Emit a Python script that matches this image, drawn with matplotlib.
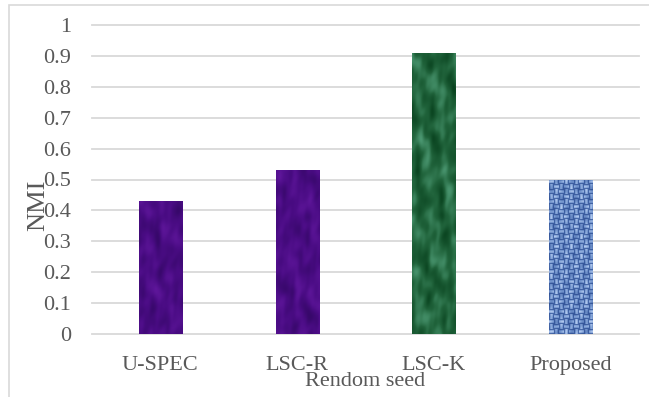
import numpy as np
import matplotlib.pyplot as plt
from matplotlib.colors import LinearSegmentedColormap
from matplotlib.patches import Rectangle

plt.rcParams['font.family'] = ['Liberation Serif', 'DejaVu Serif']

methods = ["U-SPEC", "LSC-R", "LSC-K", "Proposed"]
nmi = [0.43, 0.53, 0.91, 0.50]
yticks = [0, 0.1, 0.2, 0.3, 0.4, 0.5, 0.6, 0.7, 0.8, 0.9, 1.0]
ytick_labels = ["0", "0.1", "0.2", "0.3", "0.4", "0.5", "0.6", "0.7", "0.8", "0.9", "1"]

# fill textures: dark, mid, light tones per bar
tones = [
    ["#37086a", "#4a0c84", "#5e169a"],
    ["#37086a", "#4a0c84", "#5e169a"],
    ["#0a4420", "#20633b", "#4a9670"],
    ["#35569a", "#7193cc", "#b0c8ee"],
]
grey = "#595959"


def marble(nx, ny, k):
    # smooth blotchy fill built from a few low-frequency sinusoids
    u, v = np.meshgrid(np.linspace(0, 1, nx), np.linspace(0, ny / nx, ny))
    f = np.zeros_like(u)
    terms = [(1.4, 0.8, 0.3), (0.7, 2.0, 1.1), (2.6, 1.3, 2.3),
             (1.1, 2.9, 0.7), (3.3, 2.4, 1.9)]
    for i, (a, b, p) in enumerate(terms):
        w = np.sin(2 * np.pi * (a * u + 0.5 * b * v) + p + 1.7 * k * (i + 1))
        f += np.sin(2 * np.pi * (b * u - 0.4 * a * v) + 1.2 * w + k) / (1 + 0.4 * i)
    f = (f - f.min()) / (f.max() - f.min())
    return f


def woven(nx, ny):
    u, v = np.meshgrid(np.arange(nx), np.arange(ny))
    cell = 5
    chk = ((u // cell) + (v // cell)) % 2
    along_u = np.sin(np.pi * ((u % cell) + 0.5) / cell)
    along_v = np.sin(np.pi * ((v % cell) + 0.5) / cell)
    g = np.where(chk == 0, along_v, along_u)
    g = g * (0.75 + 0.25 * np.sin(u * 0.45 + 1.3 * np.sin(v * 0.21)) * np.cos(v * 0.33))
    g = (g - g.min()) / (g.max() - g.min())
    return g


fig = plt.figure(figsize=(6.49, 3.97), dpi=100)
fig.patches.append(Rectangle((9 / 649, -0.01), 1.0, (397 - 5) / 397 + 0.01,
                             transform=fig.transFigure, fill=False,
                             edgecolor="#d9d9d9", linewidth=1.2))

ax = fig.add_axes([92 / 649, (397 - 334) / 397, (639 - 92) / 649, (334 - 25) / 397])
x = np.arange(len(methods))
bars = ax.bar(x, nmi, width=0.315, color="none", zorder=3)

for i, b in enumerate(bars):
    ny = int(b.get_height() * 310)
    if i == 3:
        tex = woven(44, ny)
    else:
        tex = marble(44, ny, i)
    cmap = LinearSegmentedColormap.from_list("t%d" % i, tones[i])
    im = ax.imshow(tex, cmap=cmap, aspect="auto", interpolation="bilinear",
                   extent=(b.get_x(), b.get_x() + b.get_width(), 0, b.get_height()),
                   zorder=3)
    im.set_clip_path(b)

ax.set_xlim(-0.5, len(methods) - 0.5)
ax.set_ylim(0, 1)
ax.set_yticks(yticks)
ax.set_yticklabels(ytick_labels)
ax.set_xticks(x)
ax.set_xticklabels(methods)
for y in yticks:
    ax.axhline(y, color="#d9d9d9", linewidth=1.3, zorder=1, clip_on=False)

for s in ax.spines.values():
    s.set_visible(False)
ax.tick_params(axis="both", length=0, labelsize=16, colors=grey)
ax.tick_params(axis="y", pad=15)
ax.tick_params(axis="x", pad=16)

ax.set_xlabel("Rendom seed", fontsize=16, color=grey, labelpad=-2)
fig.text(38 / 649, 1 - 205 / 397, "NMI", rotation=90, fontsize=19,
         color=grey, ha="center", va="center")

fig.savefig("out.png", dpi=100)
